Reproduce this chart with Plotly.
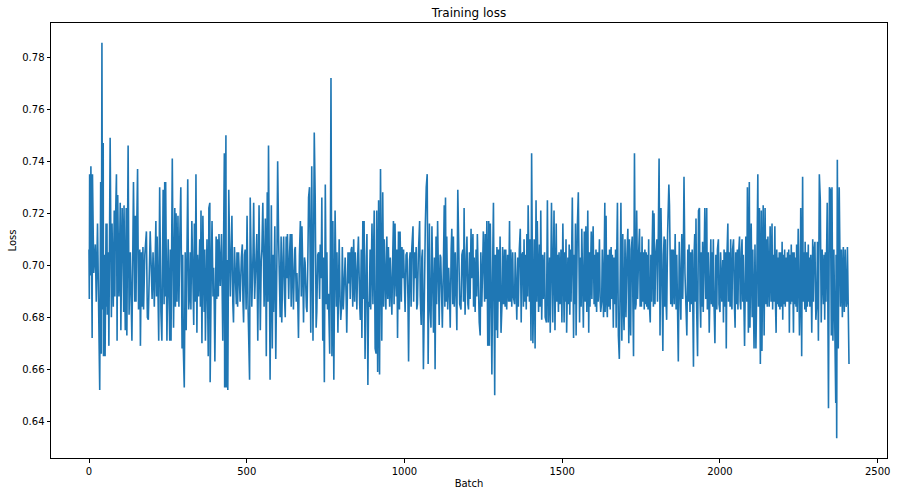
import plotly.graph_objects as go

# loss per batch in six strips along the x axis
batch_1 = [0, 1, 2, 4, 6, 8, 10, 11, 15, 20,
           23, 27, 31, 34, 37, 39, 41, 43, 45, 46,
           49, 51, 54, 56, 57, 58, 61, 63, 67, 69,
           71, 73, 77, 80, 82, 83, 87, 89, 91, 95,
           99, 101, 105, 108, 110, 111, 115, 118, 120, 124,
           127, 131, 134, 136, 141, 145, 147, 149, 151, 154,
           157, 161, 163, 166, 168, 171, 173, 177, 182, 185,
           188, 191, 194, 200, 203, 207, 210, 212, 214, 216,
           221, 224, 228, 231, 235, 238, 240, 242, 243, 245,
           247, 251, 256, 258, 260, 264, 268, 272, 274, 276,
           279, 282, 285, 288, 291, 295, 297, 299, 302, 305,
           308]
loss_1 = [0.706, 0.687, 0.735, 0.696, 0.738, 0.686, 0.672, 0.735, 0.697, 0.708,
          0.686, 0.716, 0.684, 0.652, 0.732, 0.666, 0.7855, 0.683, 0.747, 0.665,
          0.704, 0.665, 0.716, 0.684, 0.716, 0.681, 0.705, 0.669, 0.749, 0.687,
          0.680, 0.716, 0.684, 0.721, 0.688, 0.711, 0.735, 0.671, 0.727, 0.688,
          0.724, 0.675, 0.722, 0.705, 0.682, 0.723, 0.675, 0.722, 0.673, 0.746,
          0.681, 0.705, 0.684, 0.671, 0.732, 0.686, 0.719, 0.686, 0.712, 0.737,
          0.683, 0.706, 0.669, 0.705, 0.684, 0.707, 0.683, 0.704, 0.713, 0.680,
          0.679, 0.704, 0.713, 0.687, 0.705, 0.684, 0.703, 0.717, 0.688, 0.711,
          0.671, 0.730, 0.682, 0.671, 0.729, 0.685, 0.732, 0.688, 0.732, 0.686,
          0.671, 0.710, 0.671, 0.706, 0.671, 0.741, 0.676, 0.722, 0.684, 0.720,
          0.686, 0.719, 0.684, 0.712, 0.730, 0.668, 0.704, 0.668, 0.653, 0.705,
          0.675]

batch_2 = [313, 316, 319, 321, 323, 326, 332, 334, 337, 339,
           342, 344, 347, 351, 353, 355, 358, 361, 365, 367,
           369, 374, 378, 380, 383, 384, 388, 390, 393, 395,
           397, 399, 403, 405, 408, 410, 412, 416, 420, 422,
           424, 429, 430, 432, 434, 435, 437, 440, 443, 448,
           450, 453, 456, 458, 461, 464, 467, 469, 471, 474,
           477, 479, 483, 486, 488, 490, 493, 495, 498, 501,
           504, 506, 509, 511, 514, 516, 520, 522, 525, 527,
           530, 532, 535, 539, 541, 543, 546, 548, 551, 553,
           555, 559, 562, 565, 567, 569, 572, 574, 578, 581,
           583, 585, 589, 592, 596, 598, 601, 604, 606, 609,
           611, 615, 617, 620, 622, 625, 627, 629, 633, 636,
           638, 641, 643, 646, 648, 652, 654, 657, 659, 662,
           664, 667, 670, 673, 675, 678, 680, 683, 685, 689,
           691, 694, 696, 699, 701, 703, 706, 710, 712, 714,
           717, 719, 720, 722, 725, 728, 731, 733, 736, 738,
           741, 743, 746]
loss_2 = [0.733, 0.683, 0.689, 0.705, 0.683, 0.717, 0.677, 0.716, 0.686, 0.735,
          0.674, 0.704, 0.688, 0.710, 0.684, 0.721, 0.670, 0.719, 0.682, 0.706,
          0.671, 0.710, 0.665, 0.722, 0.724, 0.655, 0.703, 0.717, 0.688, 0.699,
          0.685, 0.663, 0.711, 0.687, 0.710, 0.688, 0.712, 0.692, 0.712, 0.683,
          0.671, 0.743, 0.653, 0.705, 0.750, 0.653, 0.702, 0.652, 0.729, 0.688,
          0.705, 0.719, 0.685, 0.678, 0.707, 0.697, 0.685, 0.705, 0.684, 0.705,
          0.695, 0.686, 0.703, 0.708, 0.686, 0.678, 0.704, 0.706, 0.683, 0.719,
          0.685, 0.669, 0.656, 0.726, 0.706, 0.684, 0.705, 0.724, 0.687, 0.692,
          0.705, 0.712, 0.671, 0.723, 0.685, 0.675, 0.702, 0.706, 0.724, 0.684,
          0.684, 0.718, 0.665, 0.728, 0.686, 0.746, 0.674, 0.656, 0.723, 0.668,
          0.704, 0.682, 0.715, 0.664, 0.707, 0.740, 0.710, 0.685, 0.680, 0.711,
          0.678, 0.703, 0.711, 0.687, 0.680, 0.711, 0.695, 0.712, 0.687, 0.705,
          0.712, 0.684, 0.712, 0.695, 0.683, 0.706, 0.707, 0.686, 0.697, 0.685,
          0.672, 0.704, 0.717, 0.688, 0.715, 0.695, 0.678, 0.703, 0.701, 0.684,
          0.682, 0.705, 0.726, 0.730, 0.686, 0.674, 0.738, 0.671, 0.706, 0.751,
          0.726, 0.685, 0.676, 0.682, 0.704, 0.705, 0.687, 0.708, 0.695, 0.726,
          0.671, 0.703, 0.655]

batch_3 = [749, 752, 754, 756, 759, 763, 765, 767, 770, 773,
           776, 778, 780, 784, 786, 789, 791, 793, 796, 798,
           801, 803, 806, 809, 812, 815, 817, 821, 823, 826,
           828, 831, 833, 836, 839, 842, 844, 847, 849, 852,
           854, 858, 860, 863, 865, 868, 870, 872, 875, 879,
           881, 884, 886, 888, 891, 893, 897, 900, 902, 904,
           907, 910, 912, 915, 918, 921, 924, 926, 928, 931,
           934, 936, 939, 941, 944, 947, 949, 953, 955, 958,
           960, 963, 965, 967, 970, 972, 974, 976, 978, 981,
           984, 986, 990, 992, 995, 997, 1000, 1002, 1005, 1008,
           1011, 1013, 1016, 1018, 1021, 1023, 1027, 1029, 1032, 1034,
           1037, 1039, 1041, 1044, 1048, 1050, 1053, 1055, 1057, 1060,
           1063, 1066, 1069, 1072, 1075, 1077, 1079, 1081, 1084, 1087,
           1090, 1092, 1095, 1097, 1100, 1102, 1105, 1108, 1110, 1113,
           1115, 1118, 1120, 1124, 1126, 1128, 1130, 1132, 1134, 1137,
           1140, 1143, 1145, 1148, 1150, 1153, 1155, 1158, 1161, 1164,
           1166, 1169, 1172, 1175, 1179, 1182, 1185, 1187, 1189]
loss_3 = [0.731, 0.685, 0.705, 0.683, 0.689, 0.666, 0.704, 0.772, 0.665, 0.717,
          0.656, 0.706, 0.721, 0.684, 0.705, 0.674, 0.703, 0.710, 0.686, 0.679,
          0.685, 0.707, 0.683, 0.696, 0.703, 0.688, 0.674, 0.705, 0.693, 0.705,
          0.687, 0.706, 0.707, 0.684, 0.710, 0.686, 0.705, 0.695, 0.683, 0.704,
          0.711, 0.685, 0.679, 0.706, 0.672, 0.717, 0.687, 0.717, 0.664, 0.703,
          0.712, 0.654, 0.686, 0.684, 0.706, 0.683, 0.716, 0.685, 0.704, 0.721,
          0.668, 0.666, 0.721, 0.659, 0.725, 0.658, 0.737, 0.695, 0.671, 0.728,
          0.684, 0.710, 0.686, 0.683, 0.711, 0.687, 0.707, 0.684, 0.703, 0.688,
          0.681, 0.705, 0.717, 0.685, 0.716, 0.695, 0.688, 0.706, 0.672, 0.713,
          0.683, 0.713, 0.686, 0.707, 0.695, 0.706, 0.684, 0.682, 0.704, 0.705,
          0.687, 0.663, 0.702, 0.705, 0.684, 0.706, 0.715, 0.686, 0.705, 0.695,
          0.707, 0.683, 0.685, 0.704, 0.717, 0.688, 0.677, 0.703, 0.706, 0.660,
          0.705, 0.715, 0.730, 0.735, 0.662, 0.706, 0.716, 0.684, 0.676, 0.715,
          0.686, 0.674, 0.703, 0.660, 0.711, 0.685, 0.717, 0.695, 0.677, 0.704,
          0.703, 0.687, 0.676, 0.705, 0.723, 0.684, 0.726, 0.686, 0.711, 0.683,
          0.699, 0.688, 0.676, 0.706, 0.714, 0.685, 0.711, 0.684, 0.705, 0.687,
          0.675, 0.729, 0.693, 0.685, 0.683, 0.704, 0.706, 0.686, 0.722]

batch_4 = [1192, 1196, 1198, 1201, 1203, 1206, 1208, 1211, 1213, 1217,
           1219, 1221, 1224, 1227, 1229, 1231, 1235, 1237, 1240, 1242,
           1245, 1248, 1250, 1254, 1256, 1259, 1261, 1264, 1267, 1269,
           1272, 1275, 1277, 1280, 1282, 1284, 1286, 1288, 1291, 1293,
           1295, 1298, 1301, 1303, 1306, 1309, 1311, 1314, 1317, 1319,
           1321, 1324, 1327, 1330, 1333, 1335, 1337, 1340, 1343, 1345,
           1349, 1351, 1354, 1356, 1359, 1361, 1364, 1367, 1370, 1372,
           1375, 1377, 1379, 1381, 1383, 1386, 1388, 1390, 1392, 1394,
           1396, 1398, 1401, 1403, 1407, 1409, 1411, 1414, 1417, 1419,
           1421, 1425, 1428, 1430, 1432, 1435, 1438, 1440, 1444, 1446,
           1450, 1453, 1456, 1460, 1462, 1466, 1468, 1470, 1474, 1477,
           1481, 1483, 1485, 1488, 1490, 1493, 1496, 1499, 1502, 1504,
           1506, 1508, 1510, 1512, 1514, 1518, 1520, 1522, 1524, 1526,
           1528, 1530, 1532, 1536, 1538, 1540, 1542, 1544, 1546, 1548,
           1551, 1555, 1557, 1560, 1562, 1564, 1567, 1570, 1573, 1575,
           1578, 1581, 1584, 1586, 1588, 1592, 1594, 1596, 1598, 1601,
           1603, 1605, 1607, 1609, 1612, 1614, 1616, 1618, 1620, 1622,
           1625, 1627, 1631, 1635]
loss_4 = [0.681, 0.704, 0.711, 0.685, 0.683, 0.705, 0.687, 0.714, 0.695, 0.712,
          0.684, 0.703, 0.682, 0.706, 0.688, 0.712, 0.686, 0.678, 0.673, 0.705,
          0.684, 0.703, 0.713, 0.686, 0.712, 0.687, 0.717, 0.669, 0.717, 0.669,
          0.716, 0.685, 0.658, 0.705, 0.724, 0.686, 0.650, 0.704, 0.675, 0.707,
          0.672, 0.706, 0.686, 0.711, 0.674, 0.685, 0.707, 0.685, 0.706, 0.684,
          0.706, 0.683, 0.704, 0.686, 0.717, 0.686, 0.706, 0.684, 0.705, 0.688,
          0.685, 0.705, 0.686, 0.679, 0.703, 0.684, 0.706, 0.714, 0.678, 0.704,
          0.705, 0.684, 0.710, 0.686, 0.704, 0.683, 0.712, 0.688, 0.723, 0.687,
          0.686, 0.710, 0.671, 0.743, 0.670, 0.686, 0.710, 0.668, 0.725, 0.686,
          0.717, 0.682, 0.708, 0.684, 0.721, 0.679, 0.704, 0.687, 0.705, 0.680,
          0.678, 0.725, 0.678, 0.703, 0.674, 0.724, 0.695, 0.678, 0.721, 0.675,
          0.716, 0.686, 0.704, 0.682, 0.705, 0.685, 0.706, 0.678, 0.716, 0.684,
          0.678, 0.705, 0.686, 0.710, 0.674, 0.703, 0.685, 0.708, 0.681, 0.706,
          0.686, 0.705, 0.726, 0.672, 0.704, 0.685, 0.716, 0.673, 0.706, 0.715,
          0.728, 0.678, 0.703, 0.684, 0.714, 0.685, 0.676, 0.713, 0.686, 0.715,
          0.682, 0.721, 0.674, 0.705, 0.684, 0.713, 0.687, 0.705, 0.715, 0.685,
          0.704, 0.684, 0.706, 0.682, 0.705, 0.686, 0.703, 0.710, 0.688, 0.682,
          0.686, 0.706, 0.680, 0.724]

batch_5 = [1636, 1639, 1641, 1643, 1645, 1648, 1650, 1652, 1655, 1657,
           1659, 1662, 1664, 1667, 1669, 1671, 1673, 1675, 1678, 1681,
           1683, 1686, 1689, 1692, 1694, 1696, 1699, 1702, 1705, 1708,
           1711, 1713, 1715, 1717, 1719, 1722, 1724, 1726, 1729, 1732,
           1734, 1736, 1739, 1742, 1745, 1747, 1749, 1751, 1753, 1755,
           1757, 1760, 1762, 1764, 1766, 1768, 1770, 1772, 1774, 1776,
           1779, 1781, 1783, 1785, 1787, 1789, 1791, 1794, 1796, 1800,
           1802, 1804, 1807, 1810, 1813, 1817, 1819, 1821, 1823, 1825,
           1827, 1829, 1831, 1834, 1838, 1840, 1842, 1844, 1847, 1849,
           1852, 1855, 1858, 1861, 1863, 1865, 1868, 1871, 1874, 1876,
           1879, 1882, 1884, 1886, 1889, 1893, 1895, 1898, 1900, 1902,
           1905, 1907, 1909, 1912, 1914, 1916, 1918, 1920, 1922, 1924,
           1926, 1929, 1932, 1935, 1937, 1939, 1941, 1943, 1945, 1947,
           1950, 1952, 1955, 1958, 1960, 1963, 1966, 1969, 1971, 1973,
           1975, 1977, 1979, 1981, 1984, 1987, 1990, 1992, 1995, 1997,
           2000, 2002, 2006, 2009, 2011, 2013, 2016, 2018, 2020, 2022,
           2025, 2027, 2029, 2032, 2034, 2036, 2038, 2040, 2043, 2046,
           2048, 2050, 2053, 2055, 2057, 2059, 2062, 2064, 2066, 2068,
           2070, 2072, 2074, 2076, 2078, 2082, 2085]
loss_5 = [0.682, 0.719, 0.686, 0.680, 0.704, 0.684, 0.706, 0.683, 0.707, 0.687,
          0.704, 0.676, 0.703, 0.685, 0.706, 0.676, 0.705, 0.724, 0.673, 0.664,
          0.686, 0.724, 0.671, 0.712, 0.684, 0.675, 0.710, 0.680, 0.703, 0.714,
          0.670, 0.710, 0.684, 0.673, 0.706, 0.711, 0.686, 0.665, 0.743, 0.683,
          0.685, 0.721, 0.687, 0.704, 0.714, 0.684, 0.705, 0.684, 0.711, 0.686,
          0.705, 0.683, 0.706, 0.685, 0.705, 0.684, 0.704, 0.683, 0.710, 0.686,
          0.678, 0.704, 0.686, 0.706, 0.721, 0.684, 0.720, 0.685, 0.703, 0.710,
          0.686, 0.705, 0.741, 0.673, 0.722, 0.686, 0.667, 0.704, 0.711, 0.684,
          0.710, 0.686, 0.679, 0.712, 0.731, 0.723, 0.695, 0.685, 0.706, 0.684,
          0.706, 0.685, 0.712, 0.683, 0.704, 0.686, 0.663, 0.709, 0.686, 0.679,
          0.712, 0.687, 0.704, 0.734, 0.697, 0.684, 0.673, 0.706, 0.686, 0.708,
          0.682, 0.705, 0.685, 0.706, 0.674, 0.661, 0.704, 0.712, 0.686, 0.718,
          0.684, 0.665, 0.721, 0.722, 0.686, 0.676, 0.705, 0.684, 0.709, 0.682,
          0.704, 0.722, 0.687, 0.722, 0.683, 0.705, 0.674, 0.703, 0.710, 0.685,
          0.705, 0.684, 0.710, 0.686, 0.670, 0.704, 0.683, 0.706, 0.710, 0.685,
          0.682, 0.705, 0.686, 0.702, 0.678, 0.706, 0.684, 0.705, 0.668, 0.703,
          0.716, 0.686, 0.705, 0.684, 0.710, 0.686, 0.683, 0.706, 0.710, 0.684,
          0.676, 0.705, 0.685, 0.706, 0.683, 0.704, 0.711, 0.686, 0.683, 0.705,
          0.710, 0.686, 0.704, 0.685, 0.669, 0.711, 0.686]

batch_6 = [2087, 2090, 2093, 2095, 2099, 2102, 2104, 2106, 2108, 2111,
           2114, 2116, 2120, 2122, 2125, 2128, 2131, 2133, 2137, 2140,
           2143, 2146, 2148, 2150, 2152, 2156, 2159, 2162, 2165, 2167,
           2169, 2171, 2174, 2176, 2178, 2180, 2182, 2184, 2186, 2188,
           2190, 2193, 2195, 2197, 2199, 2201, 2203, 2205, 2207, 2209,
           2212, 2214, 2216, 2218, 2220, 2222, 2224, 2226, 2228, 2230,
           2233, 2235, 2237, 2239, 2241, 2243, 2245, 2247, 2248, 2252,
           2254, 2256, 2259, 2262, 2264, 2266, 2269, 2270, 2273, 2275,
           2277, 2280, 2282, 2283, 2285, 2288, 2291, 2294, 2296, 2298,
           2301, 2304, 2307, 2309, 2312, 2315, 2318, 2321, 2324, 2328,
           2330, 2332, 2334, 2336, 2338, 2340, 2344, 2347, 2350, 2353,
           2355, 2358, 2361, 2365, 2367, 2368, 2370, 2372, 2375, 2378,
           2382, 2385, 2388, 2391, 2394, 2397, 2400, 2402, 2404, 2407,
           2409]
loss_6 = [0.730, 0.674, 0.732, 0.676, 0.716, 0.680, 0.706, 0.686, 0.668, 0.708,
          0.668, 0.686, 0.735, 0.684, 0.722, 0.662, 0.721, 0.667, 0.723, 0.673,
          0.722, 0.685, 0.710, 0.684, 0.711, 0.684, 0.715, 0.686, 0.716, 0.683,
          0.704, 0.686, 0.715, 0.685, 0.674, 0.706, 0.685, 0.703, 0.684, 0.705,
          0.683, 0.705, 0.684, 0.709, 0.679, 0.704, 0.685, 0.706, 0.684, 0.703,
          0.686, 0.705, 0.686, 0.706, 0.674, 0.704, 0.685, 0.708, 0.686, 0.705,
          0.674, 0.705, 0.685, 0.703, 0.684, 0.708, 0.682, 0.704, 0.714, 0.673,
          0.686, 0.722, 0.665, 0.734, 0.686, 0.705, 0.683, 0.709, 0.682, 0.705,
          0.684, 0.708, 0.686, 0.703, 0.684, 0.704, 0.674, 0.710, 0.686, 0.705,
          0.709, 0.679, 0.686, 0.709, 0.671, 0.735, 0.725, 0.678, 0.706, 0.685,
          0.704, 0.679, 0.705, 0.686, 0.706, 0.724, 0.645, 0.730, 0.729, 0.673,
          0.730, 0.671, 0.706, 0.672, 0.647, 0.704, 0.6335, 0.7405, 0.668, 0.730,
          0.684, 0.706, 0.680, 0.707, 0.682, 0.706, 0.684, 0.686, 0.707, 0.671,
          0.662]

x_ticks = [0, 500, 1000, 1500, 2000, 2500]
y_ticks = [0.64, 0.66, 0.68, 0.70, 0.72, 0.74, 0.76, 0.78]

batches = []
losses = []
for b, l in [(batch_1, loss_1), (batch_2, loss_2), (batch_3, loss_3),
             (batch_4, loss_4), (batch_5, loss_5), (batch_6, loss_6)]:
    assert len(b) == len(l), (len(b), len(l))
    batches += b
    losses += l

fig = go.Figure()
fig.add_trace(go.Scatter(
    x=batches,
    y=losses,
    mode="lines",
    line=dict(color="#1f77b4", width=1.6),
    showlegend=False,
    hoverinfo="skip"
))

axis_style = dict(
    showline=True,
    mirror=True,
    linecolor="black",
    linewidth=1,
    ticks="outside",
    ticklen=3.5,
    tickwidth=1,
    tickcolor="black",
    showgrid=False,
    zeroline=False,
    automargin=False,
    tickfont=dict(size=10, color="black"),
)

fig.update_layout(
    width=897,
    height=496,
    margin=dict(l=51, r=10, t=23, b=38),
    paper_bgcolor="white",
    plot_bgcolor="white",
    font=dict(family="DejaVu Sans", color="black"),
    title=dict(text="Training loss", x=0.5, xref="paper", xanchor="center",
               y=1 - 13 / 496, yref="container", yanchor="middle",
               font=dict(size=12)),
    xaxis=dict(axis_style, range=[-120.45, 2529.45], tickvals=x_ticks,
               title=dict(text="Batch", font=dict(size=10), standoff=4)),
    yaxis=dict(axis_style, range=[0.6259, 0.7931], tickvals=y_ticks,
               tickformat=".2f",
               title=dict(text="Loss", font=dict(size=10), standoff=3)),
)

# drop the browser's default page margin so the figure sits at the window edge
fig.write_html("out.html", config={"displayModeBar": False},
               post_script="document.body.style.margin = '0';")
